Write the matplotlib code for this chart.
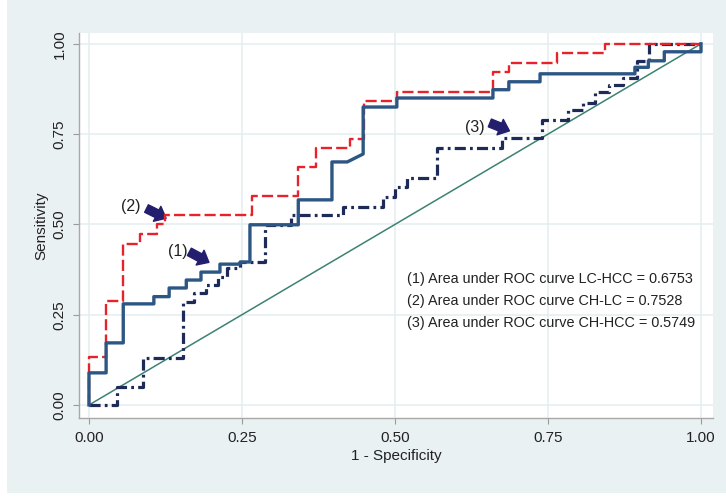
import numpy as np
import matplotlib
matplotlib.use('Agg')
import matplotlib.pyplot as plt
from matplotlib.patches import Rectangle

plt.rcParams['font.family'] = ['Liberation Sans', 'DejaVu Sans']
plt.rcParams['lines.scale_dashes'] = False

# ROC curve vertices (1 - specificity, sensitivity)
fpr_lc_hcc = [0, 0, 0.028, 0.028, 0.056, 0.056, 0.106, 0.106, 0.131, 0.131, 0.159, 0.159,
              0.183, 0.183, 0.214, 0.214, 0.247, 0.247, 0.263, 0.263, 0.342, 0.342, 0.397,
              0.397, 0.422, 0.448, 0.448, 0.503, 0.503, 0.660, 0.660, 0.686, 0.686, 0.737,
              0.737, 0.892, 0.892, 0.914, 0.914, 0.940, 0.940, 1.0, 1.0]
tpr_lc_hcc = [0, 0.089, 0.089, 0.172, 0.172, 0.280, 0.280, 0.300, 0.300, 0.324, 0.324, 0.346,
              0.346, 0.368, 0.368, 0.390, 0.390, 0.396, 0.396, 0.499, 0.499, 0.568, 0.568,
              0.673, 0.673, 0.695, 0.825, 0.825, 0.850, 0.850, 0.873, 0.873, 0.895, 0.895,
              0.917, 0.917, 0.935, 0.935, 0.953, 0.953, 0.978, 0.978, 1.0]

fpr_ch_lc = [0, 0, 0.028, 0.028, 0.056, 0.056, 0.083, 0.083, 0.111, 0.111, 0.125, 0.125,
             0.266, 0.266, 0.342, 0.342, 0.371, 0.371, 0.426, 0.426, 0.449, 0.449, 0.503,
             0.503, 0.660, 0.660, 0.686, 0.686, 0.765, 0.765, 0.843, 0.843, 1.0]
tpr_ch_lc = [0, 0.132, 0.132, 0.289, 0.289, 0.447, 0.447, 0.474, 0.474, 0.500, 0.500, 0.526,
             0.526, 0.579, 0.579, 0.658, 0.658, 0.711, 0.711, 0.737, 0.737, 0.842, 0.842,
             0.868, 0.868, 0.921, 0.921, 0.947, 0.947, 0.974, 0.974, 1.0, 1.0]

fpr_ch_hcc = [0, 0.046, 0.046, 0.088, 0.088, 0.154, 0.154, 0.172, 0.172, 0.192, 0.192, 0.210,
              0.210, 0.226, 0.226, 0.247, 0.247, 0.288, 0.288, 0.330, 0.330, 0.415, 0.415,
              0.480, 0.480, 0.500, 0.500, 0.520, 0.520, 0.569, 0.569, 0.675, 0.675, 0.740,
              0.740, 0.783, 0.783, 0.807, 0.807, 0.827, 0.827, 0.850, 0.850, 0.872, 0.872,
              0.895, 0.895, 0.915, 0.915, 1.0]
tpr_ch_hcc = [0, 0, 0.050, 0.050, 0.130, 0.130, 0.285, 0.285, 0.310, 0.310, 0.333, 0.333,
              0.355, 0.355, 0.378, 0.378, 0.396, 0.396, 0.499, 0.499, 0.526, 0.526, 0.548,
              0.548, 0.576, 0.576, 0.604, 0.604, 0.629, 0.629, 0.712, 0.712, 0.740, 0.740,
              0.790, 0.790, 0.817, 0.817, 0.837, 0.837, 0.867, 0.867, 0.886, 0.886, 0.906,
              0.906, 0.953, 0.953, 1.0, 1.0]

ticks = [0, 0.25, 0.5, 0.75, 1.0]
tick_labels = ['0.00', '0.25', '0.50', '0.75', '1.00']

auc_lines = ['(1) Area under ROC curve LC-HCC = 0.6753',
             '(2) Area under ROC curve CH-LC = 0.7528',
             '(3) Area under ROC curve CH-HCC = 0.5749']

# -----------------------------------------------------------------------------
fig = plt.figure(figsize=(7.26, 4.96), dpi=100)
fig.patch.set_facecolor('white')
fig.patches.append(Rectangle((7 / 726, 3 / 496), 1, 1, transform=fig.transFigure,
                             facecolor='#EAF1F3', edgecolor='none', zorder=-10))

ax = fig.add_axes([79 / 726, 78 / 496, 634 / 726, 385 / 496])
ax.set_facecolor('white')
ax.set_xlim(-0.0163, 1.0196)
ax.set_ylim(-0.036, 1.030)

for t in ticks:
    ax.axvline(t, color='#E4EDEF', lw=1.1, zorder=0)
    ax.axhline(t, color='#E4EDEF', lw=1.1, zorder=0)

# reference line
ax.plot([0, 1], [0, 1], color='#3C8272', lw=1.1, zorder=2)

ax.plot(fpr_ch_hcc, tpr_ch_hcc, color='#1E2B58', lw=2.3, dashes=(8, 3, 2, 3), zorder=3)
ax.plot(fpr_ch_lc, tpr_ch_lc, color='#E8222A', lw=1.7, dashes=(8, 3), zorder=4)
ax.plot(fpr_lc_hcc, tpr_lc_hcc, color='#2C5683', lw=2.4, zorder=5)

# labels with arrows pointing at each curve
arrow_kw = dict(arrowstyle='simple,head_width=1.0,head_length=0.6,tail_width=0.5',
                color='#231F6E', mutation_scale=12, shrinkA=0, shrinkB=0)
ax.annotate('', xy=(0.196, 0.395), xytext=(0.164, 0.424), arrowprops=arrow_kw)
ax.annotate('', xy=(0.126, 0.517), xytext=(0.094, 0.544), arrowprops=arrow_kw)
ax.annotate('', xy=(0.687, 0.759), xytext=(0.655, 0.781), arrowprops=arrow_kw)
ax.text(0.145, 0.424, '(1)', fontsize=11.5, ha='center', va='center', color='#222222')
ax.text(0.069, 0.549, '(2)', fontsize=11.5, ha='center', va='center', color='#222222')
ax.text(0.631, 0.769, '(3)', fontsize=11.5, ha='center', va='center', color='#222222')

for i, s in enumerate(auc_lines):
    ax.text(0.52, 0.350 - i * 0.061, s, fontsize=10.4, ha='left', va='center', color='#222222')

ax.set_xticks(ticks)
ax.set_xticklabels(tick_labels)
ax.set_yticks(ticks)
ax.set_yticklabels(tick_labels, rotation=90, va='center')
ax.tick_params(axis='both', length=4, width=0.8, color='#9A9A9A', pad=5,
               labelsize=11, labelcolor='#222222')

for side in ['top', 'right']:
    ax.spines[side].set_visible(False)
for side in ['left', 'bottom']:
    ax.spines[side].set_color('#A8A8A8')
    ax.spines[side].set_linewidth(1.0)

ax.set_xlabel('1 - Specificity', fontsize=11, color='#222222', labelpad=3)
ax.set_ylabel('Sensitivity', fontsize=11, color='#222222', labelpad=3)

fig.savefig('out.png', dpi=100, facecolor=fig.get_facecolor())
